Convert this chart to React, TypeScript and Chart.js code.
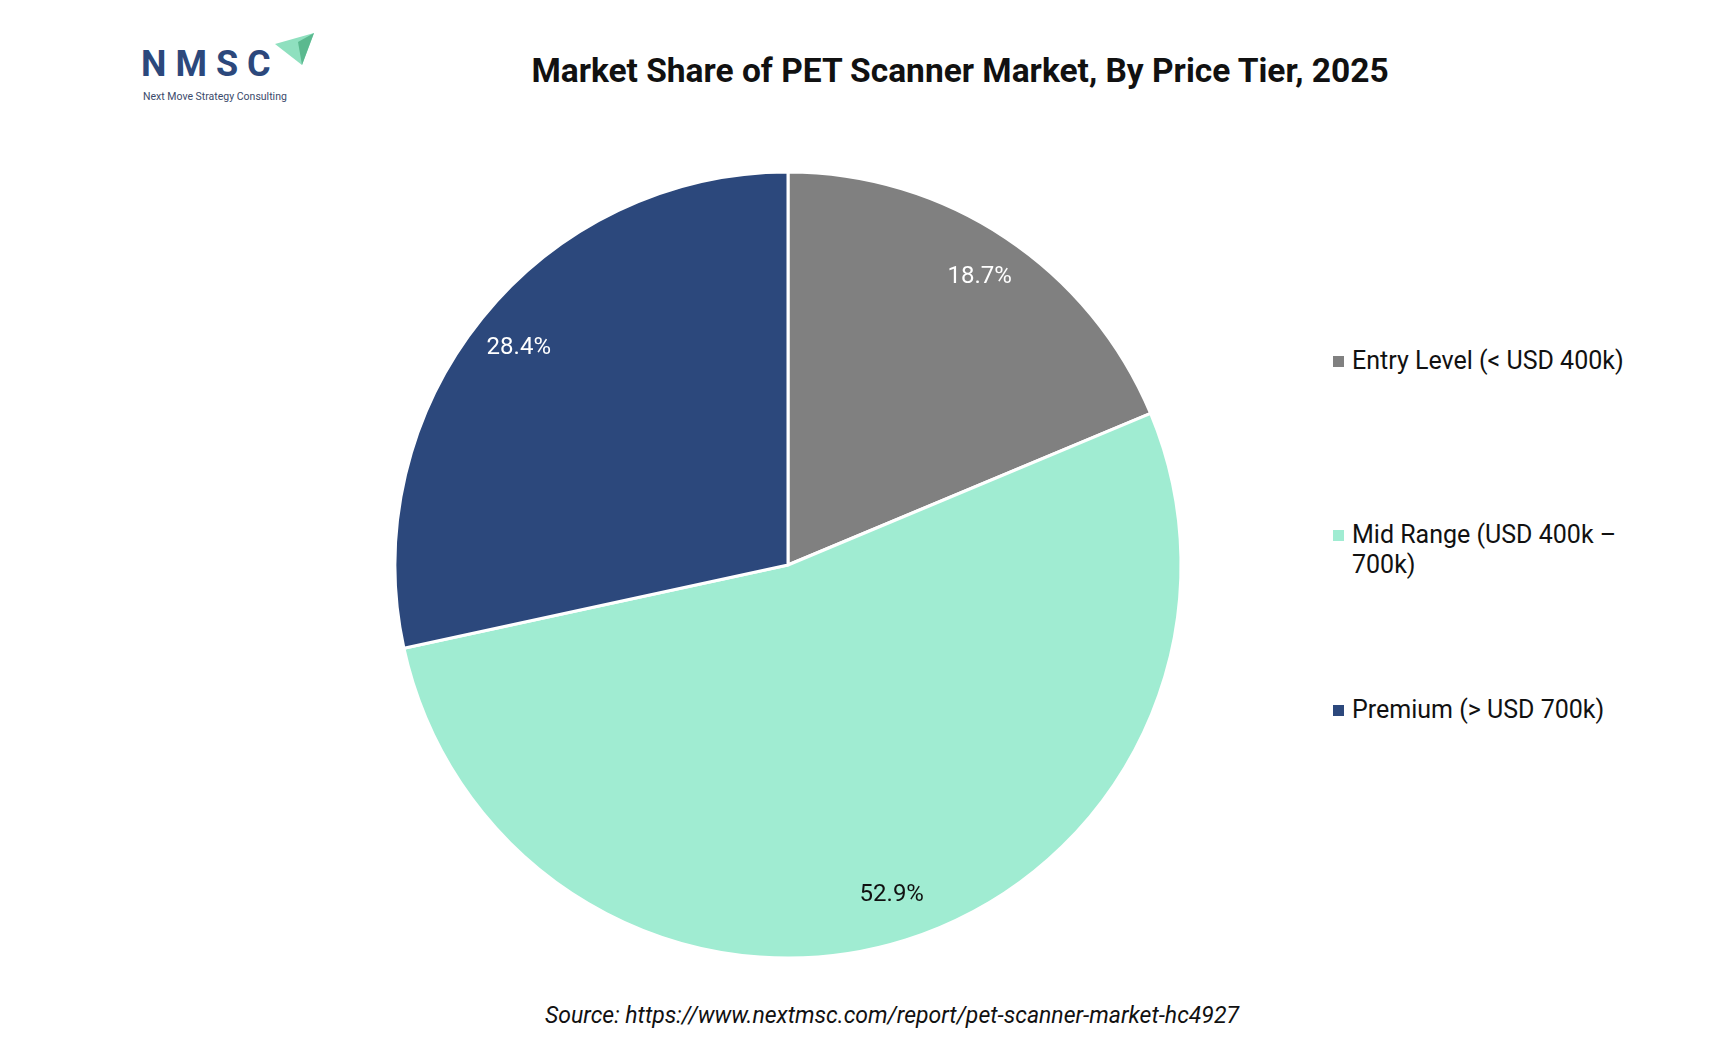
import { useEffect, useRef } from "react"
import { Chart, registerables } from "chart.js"

Chart.register(...registerables)

const categories = ["Entry Level (< USD 400k)", "Mid Range (USD 400k – 700k)", "Premium (> USD 700k)"]
const shares = [18.7, 52.9, 28.4]
const sliceColors = ["#808080", "#a0ecd2", "#2c487c"]
const labelColors = ["#ffffff", "#111111", "#ffffff"]
// legend rows
const legendTops = [346, 520, 695]

const FONT = "Roboto, 'Noto Sans', sans-serif"

// draws the percentage inside each slice
const sliceLabels = {
  id: "sliceLabels",
  afterDatasetsDraw(chart: any) {
    const ctx = chart.ctx
    const meta = chart.getDatasetMeta(0)
    ctx.save()
    ctx.font = `24px ${FONT}`
    ctx.textAlign = "center"
    ctx.textBaseline = "middle"
    meta.data.forEach((arc: any, i: number) => {
      const { x, y, startAngle, endAngle, outerRadius } = arc.getProps(
        ["x", "y", "startAngle", "endAngle", "outerRadius"],
        true
      )
      const mid = (startAngle + endAngle) / 2
      const r = outerRadius * 0.88
      ctx.fillStyle = labelColors[i]
      ctx.fillText(shares[i].toFixed(1) + "%", x + Math.cos(mid) * r, y + Math.sin(mid) * r)
    })
    ctx.restore()
  },
}

function PieChart() {
  const chartRef = useRef<HTMLCanvasElement>(null)
  const chartInstance = useRef<Chart | null>(null)

  useEffect(() => {
    if (!chartRef.current) return
    if (chartInstance.current) chartInstance.current.destroy()

    const ctx = chartRef.current.getContext("2d")
    if (!ctx) return

    chartInstance.current = new Chart(ctx, {
      type: "pie",
      data: {
        labels: categories,
        datasets: [
          {
            data: shares,
            backgroundColor: sliceColors,
            borderColor: "#ffffff",
            borderWidth: 3,
          },
        ],
      },
      options: {
        responsive: false,
        animation: false,
        radius: 393,
        layout: { padding: 0 },
        plugins: {
          legend: { display: false },
          tooltip: { enabled: false },
        },
      },
      plugins: [sliceLabels],
    })

    return () => {
      if (chartInstance.current) {
        chartInstance.current.destroy()
        chartInstance.current = null
      }
    }
  }, [])

  return (
    <canvas
      ref={chartRef}
      width={800}
      height={800}
      style={{ position: "absolute", left: 388, top: 165, width: 800, height: 800 }}
    />
  )
}

export default function App() {
  return (
    <div
      style={{
        position: "absolute",
        left: 0,
        top: 0,
        width: 1730,
        height: 1044,
        background: "#ffffff",
        fontFamily: FONT,
        color: "#111111",
        overflow: "hidden",
      }}
    >
      {/* logo */}
      <div
        style={{
          position: "absolute",
          left: 141,
          top: 46,
          fontSize: 36,
          lineHeight: "36px",
          fontWeight: 700,
          letterSpacing: 9,
          color: "#2c487c",
        }}
      >
        NMSC
      </div>
      <svg style={{ position: "absolute", left: 272, top: 30 }} width={46} height={40}>
        <polygon points="3,14 42,3 30,35" fill="#8fe0bf" />
        <polygon points="26,12 42,3 30,35" fill="#5bb98f" />
      </svg>
      <div
        style={{
          position: "absolute",
          left: 143,
          top: 91,
          fontSize: 10.5,
          lineHeight: "12px",
          color: "#3b4a6b",
        }}
      >
        Next Move Strategy Consulting
      </div>

      {/* title */}
      <div
        style={{
          position: "absolute",
          left: 0,
          width: 1920,
          top: 54,
          textAlign: "center",
          fontSize: 33.5,
          lineHeight: "33px",
          fontWeight: 700,
        }}
      >
        Market Share of PET Scanner Market, By Price Tier, 2025
      </div>

      <PieChart />

      {/* legend */}
      {categories.map((name, i) => (
        <div
          key={name}
          style={{ position: "absolute", left: 1333, top: legendTops[i], width: 320 }}
        >
          <div
            style={{
              position: "absolute",
              left: 0,
              top: 10,
              width: 11,
              height: 11,
              background: sliceColors[i],
            }}
          />
          <div style={{ marginLeft: 19, width: 292, fontSize: 25, lineHeight: "30px" }}>{name}</div>
        </div>
      ))}

      {/* source */}
      <div
        style={{
          position: "absolute",
          left: 0,
          width: 1784,
          top: 1004,
          textAlign: "center",
          fontSize: 23,
          lineHeight: "23px",
          fontStyle: "italic",
        }}
      >
        Source: https://www.nextmsc.com/report/pet-scanner-market-hc4927
      </div>
    </div>
  )
}
